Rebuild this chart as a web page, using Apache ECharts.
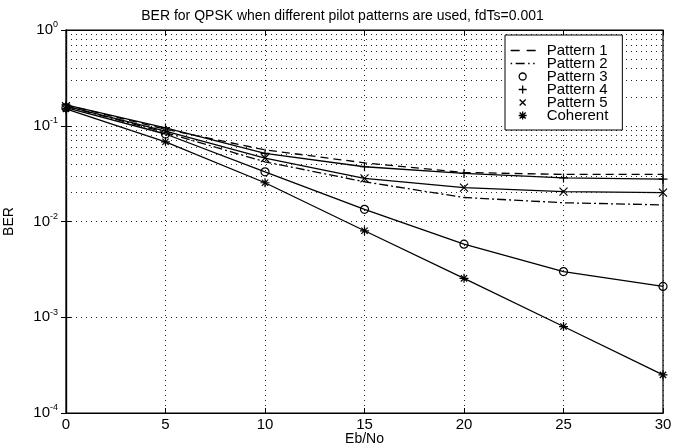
<!DOCTYPE html>
<html>
<head>
<meta charset="utf-8">
<script src="https://cdn.jsdelivr.net/npm/echarts@6/dist/echarts.min.js"></script>
<style>html,body{margin:0;padding:0;background:#fff}#c{width:685px;height:447px}</style>
</head>
<body>
<div id="c"></div>
<script>
// Eb/No values (dB)
var ebno = [0, 5, 10, 15, 20, 25, 30];
// BER series
var pattern1 = [0.165, 0.092, 0.056, 0.041, 0.0325, 0.031, 0.031];
var pattern2 = [0.16, 0.085, 0.042, 0.026, 0.0178, 0.0157, 0.0149];
var pattern3 = [0.155, 0.082, 0.033, 0.0134, 0.0058, 0.0030, 0.0021];
var pattern4 = [0.165, 0.095, 0.0515, 0.0373, 0.0318, 0.0285, 0.0277];
var pattern5 = [0.16, 0.088, 0.046, 0.0282, 0.0226, 0.0205, 0.0200];
var coherent = [0.15, 0.068, 0.0254, 0.0080, 0.00255, 0.00080, 0.00025];
var seriesNames = ['Pattern 1', 'Pattern 2', 'Pattern 3', 'Pattern 4', 'Pattern 5', 'Coherent'];
var titleText = 'BER for QPSK when different pilot patterns are used, fdTs=0.001';
var decades = [-4, -3, -2, -1];
var minorMult = [2, 3, 4, 5, 6, 7, 8, 9];

var FONT = 'Liberation Sans, Arial, Helvetica, sans-serif';
// plot markers
var plusPath = 'path://M5,0L5,10M0,5L10,5';
var crossPath = 'path://M0,0L10,10M10,0L0,10';
var starPath = 'path://M5,0L5,10M0,5L10,5M1.5,1.5L8.5,8.5M8.5,1.5L1.5,8.5';
// legend icons (31x10 box)
var BOX = 'M0,0M31,10';
var lgDash = 'path://' + BOX + 'M0,5L9,5M16,5L25,5';
var lgDashDot = 'path://' + BOX + 'M0,5L1.5,5M5,5L14,5M17.5,5L19,5M22.5,5L24,5';
var lgCircle = 'path://' + BOX + 'M15.5,5A3.5,3.5,0,1,1,8.5,5A3.5,3.5,0,1,1,15.5,5';
var lgPlus = 'path://' + BOX + 'M12,1L12,9M8,5L16,5';
var lgCross = 'path://' + BOX + 'M9,2L15,8M15,2L9,8';
var lgStar = 'path://' + BOX + 'M12,1L12,9M8,5L16,5M9,2L15,8M15,2L9,8';

function pairs(arr) { return ebno.map(function (x, i) { return [x, arr[i]]; }); }

var minorLines = [];
decades.forEach(function (d) {
  minorMult.forEach(function (m) { minorLines.push({ yAxis: m * Math.pow(10, d) }); });
});

var dotted = { type: [1, 4], color: '#222', width: 1 };
var markerStyle = { color: 'transparent', borderColor: '#000', borderWidth: 1.2 };
var lgStyle = { color: 'transparent', borderColor: '#000', borderWidth: 1.3 };

var chart = echarts.init(document.getElementById('c'), null, { renderer: 'canvas' });
chart.setOption({
  animation: false,
  backgroundColor: '#fff',
  title: {
    text: titleText, left: 'center', top: 4,
    textStyle: { fontFamily: FONT, fontSize: 14, fontWeight: 'normal', color: '#000' }
  },
  grid: {
    left: 66, right: 22, top: 30, bottom: 34, outerBoundsMode: 'none', containLabel: false,
    show: true, borderColor: '#000', borderWidth: 1.2, backgroundColor: 'transparent'
  },
  legend: {
    orient: 'vertical', left: 505, top: 35, z: 20,
    backgroundColor: '#fff', borderColor: '#000', borderWidth: 1,
    padding: [8, 14, 7, 5], itemGap: -2, itemWidth: 31, itemHeight: 10,
    textStyle: { fontFamily: FONT, fontSize: 15, color: '#000', lineHeight: 13, height: 13 },
    data: [
      { name: seriesNames[0], icon: lgDash, itemStyle: lgStyle },
      { name: seriesNames[1], icon: lgDashDot, itemStyle: lgStyle },
      { name: seriesNames[2], icon: lgCircle, itemStyle: lgStyle },
      { name: seriesNames[3], icon: lgPlus, itemStyle: lgStyle },
      { name: seriesNames[4], icon: lgCross, itemStyle: lgStyle },
      { name: seriesNames[5], icon: lgStar, itemStyle: lgStyle }
    ]
  },
  xAxis: [{
    type: 'value', min: 0, max: 30, interval: 5,
    name: 'Eb/No', nameLocation: 'middle', nameGap: 19, nameMoveOverlap: false,
    nameTextStyle: { fontFamily: FONT, fontSize: 14, color: '#000' },
    axisLine: { show: true, lineStyle: { color: '#000', width: 1.2 } },
    axisTick: { show: true, inside: true, length: 5, lineStyle: { color: '#000' } },
    axisLabel: { fontFamily: FONT, fontSize: 15, color: '#000', margin: 4 },
    splitLine: { show: true, lineStyle: dotted }
  }, {
    type: 'value', min: 0, max: 30, interval: 5, position: 'top',
    axisLine: { show: true, lineStyle: { color: '#000', width: 1.2 } },
    axisTick: { show: true, inside: true, length: 5, lineStyle: { color: '#000' } },
    axisLabel: { show: false }, splitLine: { show: false }
  }],
  yAxis: [{
    type: 'log', logBase: 10, min: 1e-4, max: 1,
    name: 'BER', nameLocation: 'middle', nameGap: 50, nameMoveOverlap: false,
    nameTextStyle: { fontFamily: FONT, fontSize: 14, color: '#000' },
    axisLine: { show: true, lineStyle: { color: '#000', width: 1.2 } },
    axisTick: { show: true, inside: true, length: 5, lineStyle: { color: '#000' } },
    axisLabel: {
      margin: 8, color: '#000',
      formatter: function (v) { return '{a|10}{b|' + Math.round(Math.log10(v)) + '}'; },
      rich: {
        a: { fontFamily: FONT, fontSize: 15, color: '#000' },
        b: { fontFamily: FONT, fontSize: 9, color: '#000', padding: [0, 0, 10, 0] }
      }
    },
    splitLine: { show: true, lineStyle: dotted }
  }, {
    type: 'log', logBase: 10, min: 1e-4, max: 1, position: 'right',
    axisLine: { show: true, lineStyle: { color: '#000', width: 1.2 } },
    axisTick: { show: true, inside: true, length: 5, lineStyle: { color: '#000' } },
    axisLabel: { show: false }, splitLine: { show: false }
  }],
  series: [
    {
      name: '__minor', type: 'line', data: [], silent: true,
      markLine: { silent: true, symbol: ['none', 'none'], label: { show: false }, lineStyle: dotted, data: minorLines, animation: false }
    },
    {
      name: seriesNames[0], type: 'line', data: pairs(pattern1), symbol: 'none',
      lineStyle: { color: '#000', width: 1.3, type: [8, 5] }, itemStyle: { color: '#000' }
    },
    {
      name: seriesNames[1], type: 'line', data: pairs(pattern2), symbol: 'none',
      lineStyle: { color: '#000', width: 1.3, type: [9, 3, 2, 3] }, itemStyle: { color: '#000' }
    },
    {
      name: seriesNames[2], type: 'line', data: pairs(pattern3), symbol: 'circle', symbolSize: 8,
      lineStyle: { color: '#000', width: 1.3 }, itemStyle: { color: 'transparent', borderColor: '#000', borderWidth: 1.2 }
    },
    {
      name: seriesNames[3], type: 'line', data: pairs(pattern4), symbol: plusPath, symbolSize: 9,
      lineStyle: { color: '#000', width: 1.3 }, itemStyle: markerStyle
    },
    {
      name: seriesNames[4], type: 'line', data: pairs(pattern5), symbol: crossPath, symbolSize: 8,
      lineStyle: { color: '#000', width: 1.3 }, itemStyle: markerStyle
    },
    {
      name: seriesNames[5], type: 'line', data: pairs(coherent), symbol: starPath, symbolSize: 9,
      lineStyle: { color: '#000', width: 1.3 }, itemStyle: markerStyle
    }
  ]
});
</script>
</body>
</html>
